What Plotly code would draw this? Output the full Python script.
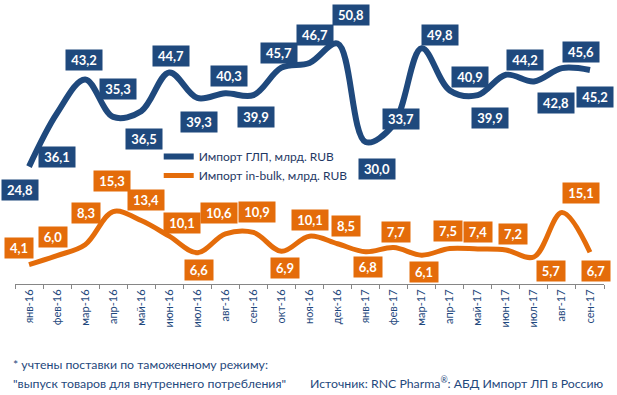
import plotly.graph_objects as go

months = ["янв-16", "фев-16", "мар-16", "апр-16", "май-16", "июн-16", "июл-16",
          "авг-16", "сен-16", "окт-16", "ноя-16", "дек-16", "янв-17", "фев-17",
          "мар-17", "апр-17", "май-17", "июн-17", "июл-17", "авг-17", "сен-17"]
glp = [24.8, 36.1, 43.2, 35.3, 36.5, 44.7, 39.3, 40.3, 39.9, 45.7, 46.7, 50.8,
       30.0, 33.7, 49.8, 40.9, 39.9, 44.2, 42.8, 45.6, 45.2]
bulk = [4.1, 6.0, 8.3, 15.3, 13.4, 10.1, 6.6, 10.6, 10.9, 6.9, 10.1, 8.5,
        6.8, 7.7, 6.1, 7.5, 7.4, 7.2, 5.7, 15.1, 6.7]

name_glp = "Импорт ГЛП, млрд. RUB"
name_bulk = "Импорт in-bulk, млрд. RUB"

# label offsets (pixels: dx right, dy down) relative to the data point
glp_off = [(-9, 23), (0, 44), (-1, -20), (5, -28), (3, 28), (2, -16), (2, 24),
           (4, -17), (3, 22), (-2, -15), (5, -28), (13, -29), (11, 27), (7, -5),
           (18, -13), (20, -13), (12, 23), (19, -15), (22, 22), (19, -16), (5, 27)]
bulk_off = [(-10, -17), (-4, -19), (1, -32), (-1, -31), (5, -21), (13, -13), (2, 17),
            (-6, -21), (4, -20), (4, 17), (0, -16), (8, -18), (2, 15), (2, -16),
            (2, 17), (-2, -18), (0, -17), (7, -16), (17, 14), (19, -20), (6, 19)]

BLUE = "#1F497D"
ORANGE = "#E46C0A"
TXT = "#1F3864"

fig = go.Figure()
fig.add_trace(go.Scatter(x=months, y=glp, mode="lines", name=name_glp,
                         line=dict(color=BLUE, width=6, shape="spline", smoothing=1.0)))
fig.add_trace(go.Scatter(x=months, y=bulk, mode="lines", name=name_bulk,
                         line=dict(color=ORANGE, width=5, shape="spline", smoothing=1.0)))

def fmt(v):
    return f"{v:.1f}".replace(".", ",")

anns = []
for vals, offs, col in ((glp, glp_off, BLUE), (bulk, bulk_off, ORANGE)):
    for m, v, (dx, dy) in zip(months, vals, offs):
        t = fmt(v)
        anns.append(dict(x=m, y=v, xref="x", yref="y", text=t, showarrow=False,
                         xshift=dx, yshift=-dy, bgcolor=col,
                         font=dict(family="Lato", size=13, color="white", weight="bold"),
                         width=30 if len(t) > 3 else 22, height=14, borderpad=3,
                         xanchor="center", yanchor="middle"))

foot = dict(family="Lato", size=12.3, color=BLUE)
anns.append(dict(x=-0.007, y=-0.285, xref="paper", yref="paper", xanchor="left",
                 yanchor="middle", showarrow=False, font=foot,
                 text="* учтены поставки по таможенному режиму:"))
anns.append(dict(x=-0.007, y=-0.349, xref="paper", yref="paper", xanchor="left",
                 yanchor="middle", showarrow=False, font=foot,
                 text="\"выпуск товаров для внутреннего потребления\""))
anns.append(dict(x=1.004, y=-0.349, xref="paper", yref="paper", xanchor="right",
                 yanchor="middle", showarrow=False, font=foot,
                 text="Источник: RNC Pharma<sup>®</sup>: АБД Импорт ЛП в Россию"))

fig.update_layout(
    width=617, height=395,
    margin=dict(l=15, r=13, t=0, b=111),
    paper_bgcolor="white", plot_bgcolor="white",
    showlegend=True,
    legend=dict(x=0.244, y=0.50, xanchor="left", yanchor="top",
                font=dict(family="Lato", size=12, color=TXT),
                bgcolor="rgba(0,0,0,0)", tracegroupgap=0, itemwidth=30),
    xaxis=dict(type="category", tickson="boundaries", ticks="outside", ticklen=4,
               tickcolor="#868686", showline=True, linecolor="#868686", linewidth=1,
               showgrid=False, tickangle=-90,
               tickfont=dict(family="Lato", size=11, color=BLUE),
               range=[-0.5, 20.5], fixedrange=True),
    yaxis=dict(range=[0, 60], visible=False, showgrid=False, zeroline=False,
               fixedrange=True),
    annotations=anns,
)

fig.write_html("out.html", config={"displayModeBar": False},
               post_script="document.body.style.margin='0';")
